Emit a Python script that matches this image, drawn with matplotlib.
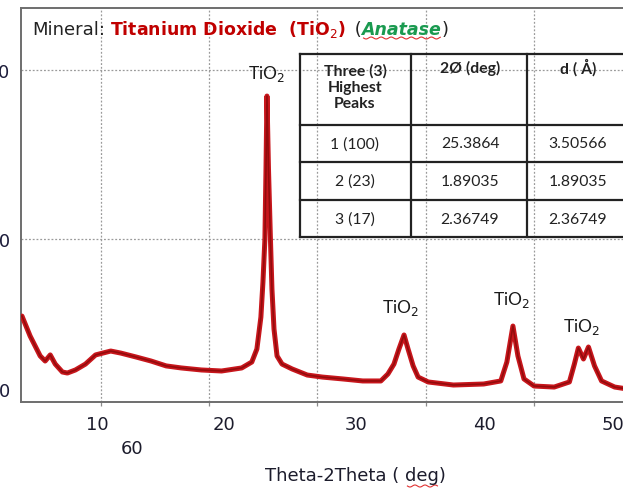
import numpy as np
import matplotlib
matplotlib.use("Agg")
import matplotlib.pyplot as plt
from matplotlib.transforms import blended_transform_factory

# ---------------- data ----------------
two_theta = [2.74, 3.49, 4.42, 4.88, 5.35, 5.81, 6.47, 6.93, 7.67, 8.60, 9.53,
             10.93, 11.86, 13.26, 14.65, 16.05, 17.44, 19.30, 21.16, 23.02,
             23.95, 24.42, 24.79, 24.98, 25.16, 25.26, 25.35, 25.49, 25.67,
             25.81, 26.00, 26.28, 26.74, 27.67, 29.07, 30.47, 32.33, 34.19,
             35.86, 36.51, 37.07, 37.53, 38.00, 38.37, 38.84, 39.30, 40.23,
             42.56, 45.35, 46.93, 47.49, 48.05, 48.51, 49.07, 50.00, 51.86,
             53.26, 53.72, 54.09, 54.56, 55.02, 55.58, 56.23, 57.44, 58.65]
intensity = [544, 426, 308, 278, 314, 260, 213, 207, 225, 260, 314,
             337, 325, 302, 278, 249, 237, 225, 219, 237,
             272, 349, 538, 746, 1000, 1414, 1846, 1414, 1000,
             704, 467, 308, 260, 231, 195, 183, 172, 160,
             160, 201, 260, 349, 432, 349, 249, 183, 154,
             136, 142, 160, 272, 485, 308, 172, 130, 124,
             154, 260, 355, 290, 361, 249, 160, 124, 112]

peak_labels_x = [25.35, 37.63, 47.95, 54.37]
peak_labels_y = [1982, 598, 645, 485]

grid_x = [10, 20, 30, 40, 50]
grid_y = [1000, 2000]

xtick_pos = [9.72, 21.35, 33.53, 45.44, 57.26]
xtick_labels = ["10", "20", "30", "40", "50"]
extra_xlabel = ("60", 12.88)

ytick_pos = [112, 1000, 2000]
ytick_labels = ["0", "1000", "2000"]

table_header = ["Three (3)\nHighest\nPeaks", "2\u00d8 (deg)", "d ( \u00c5)"]
table_rows = [["1 (100)", "25.3864", "3.50566"],
              ["2 (23)", "1.89035", "1.89035"],
              ["3 (17)", "2.36749", "2.36749"]]

W, H = 623, 489
WIDE = ["DejaVu Sans"]
NARROW = ["Lato", "DejaVu Sans"]
plt.rcParams["font.family"] = WIDE
plt.rcParams["mathtext.fontset"] = "dejavusans"

fig = plt.figure(figsize=(W / 100, H / 100), dpi=100)
ax = fig.add_axes([21 / W, (H - 403) / H, (650 - 21) / W, (403 - 9) / H])
ax.set_xlim(2.65, 60.7)
ax.set_ylim(35.5, 2367)

for s in ax.spines.values():
    s.set_color("#6e6e6e")
    s.set_linewidth(1.4)

for gx in grid_x:
    ax.axvline(gx, color="#9a9a9a", lw=0.9, ls=(0, (1.5, 1.5)), zorder=0)
for gy in grid_y:
    ax.axhline(gy, color="#9a9a9a", lw=0.9, ls=(0, (1.5, 1.5)), zorder=0)

ax.plot(two_theta, intensity, color="#c8161c", lw=3.6, solid_joinstyle="round",
        solid_capstyle="round", zorder=3)
ax.plot(two_theta, intensity, color="#8a0a0a", lw=1.2, alpha=0.85, zorder=4)

ax.set_xticks(xtick_pos, xtick_labels)
ax.set_xticks(grid_x, minor=True)
ax.tick_params(axis="x", which="major", length=0, pad=9.5, labelsize=13,
               labelcolor="#1c1c2c")
ax.tick_params(axis="x", which="minor", length=3, width=0.9, color="#8a8a8a",
               direction="out")
ax.set_yticks(ytick_pos, ytick_labels)
ax.tick_params(axis="y", length=0, pad=8.0, labelsize=13, labelcolor="#1c1c3a")

trans = blended_transform_factory(ax.transData, ax.transAxes)
ax.text(extra_xlabel[1], -0.117, extra_xlabel[0], transform=trans, ha="center",
        va="center", fontsize=13, color="#1c1c2c")

xl = fig.text(355 / W, 1 - 476 / H, "Theta-2Theta ( deg)", ha="center", va="center",
              fontsize=13, color="#1c1c2c")

for px, py in zip(peak_labels_x, peak_labels_y):
    ax.text(px, py, "TiO$_2$", ha="center", va="center", fontsize=12.5,
            color="#1a1a1a", zorder=5, family=NARROW)

renderer = fig.canvas.get_renderer()
FS = 13
runs = [("Mineral:", dict(color="#222222", fontsize=FS)),
        (" ", None),
        ("Titanium Dioxide  (TiO$_2$)", dict(color="#c00000", fontsize=FS - 0.5, fontweight="bold")),
        (" (", dict(color="#222222", fontsize=FS)),
        ("Anatase", dict(color="#1a9a50", fontsize=FS - 0.5, fontweight="bold", fontstyle="italic")),
        (")", dict(color="#222222", fontsize=FS))]
x = 32.0
ybase = 35.0
anat_span = None
for s, kw in runs:
    if kw is None:
        x += 5
        continue
    t = fig.text(x / W, 1 - ybase / H, s, ha="left", va="baseline", **kw)
    bb = t.get_window_extent(renderer)
    if s == "Anatase":
        anat_span = (x, x + bb.width)
    x += bb.width + (3 if s.startswith("Titanium") else 0)

def squiggle(x0, x1, y):
    xs = np.linspace(x0, x1, 80)
    ys = y + 1.0 * np.sin((xs - x0) / 1.6)
    fig.add_artist(plt.Line2D(xs / W, 1 - ys / H, color="#e03030", lw=0.8))

if anat_span:
    squiggle(anat_span[0] + 2, anat_span[1] - 1, 39)
xb = xl.get_window_extent(renderer)
squiggle(xb.x1 - 38, xb.x1 - 8, 487)

# table
col_x = [300, 411, 527]
row_y = [55, 126, 163, 201, 238]
x_right = 623
for yy in row_y:
    fig.add_artist(plt.Line2D([col_x[0] / W, x_right / W], [1 - yy / H] * 2,
                              color="#222222", lw=1.6))
for xx in col_x:
    fig.add_artist(plt.Line2D([xx / W] * 2, [1 - row_y[0] / H, 1 - row_y[-1] / H],
                              color="#222222", lw=1.6))
col_cx = [355, 470, 578]
head_y = [88, 68, 68]
for cx, hy, txt in zip(col_cx, head_y, table_header):
    fig.text(cx / W, 1 - hy / H, txt, ha="center", va="center",
             fontsize=11.3, fontweight="bold", color="#222222", linespacing=1.2,
             family=NARROW)
for r, row in enumerate(table_rows):
    cy = (row_y[r + 1] + row_y[r + 2]) / 2
    for cx, txt in zip(col_cx, row):
        fig.text(cx / W, 1 - cy / H, txt, ha="center", va="center", fontsize=11.3,
                 color="#222222", family=NARROW)

fig.savefig("out.png", dpi=100)
